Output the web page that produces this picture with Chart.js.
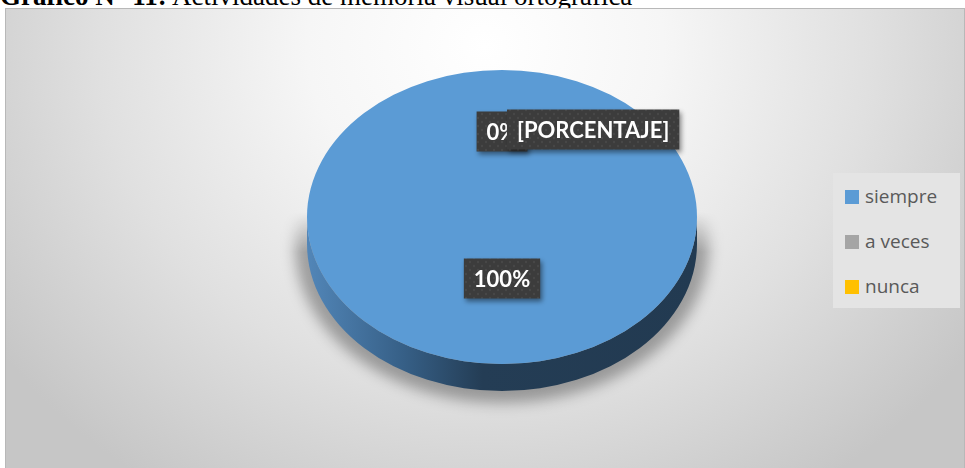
<!DOCTYPE html>
<html>
<head>
<meta charset="utf-8">
<script src="https://cdn.jsdelivr.net/npm/chart.js@4.4.1/dist/chart.umd.min.js"></script>
<style>
  html, body { margin: 0; padding: 0; background: #ffffff; }
  body { width: 965px; height: 468px; position: relative; overflow: hidden; }
  #title {
    position: absolute; left: 0; top: -19px; white-space: nowrap;
    font-family: "Liberation Serif", "Times New Roman", serif; font-size: 27px; color: #000;
  }
  #frame {
    position: absolute; left: 5px; top: 8px; width: 960px; height: 462px;
    box-sizing: border-box; border: 1px solid #b8b8b8;
    background: radial-gradient(ellipse 62% 115% at 50% 8%, #ffffff 0%, #f6f6f6 30%, #e0e0e0 65%, #c6c6c6 100%);
  }
  #chart { position: absolute; left: 0; top: 0; }
  #legend {
    position: absolute; left: 833px; top: 173px; width: 127px; height: 135px;
    background: #e4e4e4; font-family: "Open Sans", sans-serif; font-size: 19px; color: #595959;
  }
  .item { position: absolute; left: 12px; height: 24px; line-height: 24px; }
  .item span.box { display: inline-block; width: 14px; height: 14px; margin-right: 6px; vertical-align: -1px; }
</style>
</head>
<body>
<div id="title"><b>Gráfico N° 11:</b> Actividades de memoria visual ortográfica</div>
<div id="frame"></div>
<canvas id="chart" width="965" height="468"></canvas>
<div id="legend"></div>

<script>
// Chart data
const categories = ['siempre', 'a veces', 'nunca'];
const values = [100, 0, 0];
const labelTexts = ['100%', '0%', '[PORCENTAJE]'];
const colors = ['#5B9BD5', '#A5A5A5', '#FFC000'];

// Tilt / depth for the 3D look
const TILT = 147 / 195;
const DEPTH = 27;

// Build HTML legend
const legendEl = document.getElementById('legend');
categories.forEach((name, i) => {
    const row = document.createElement('div');
    row.className = 'item';
    row.style.top = (11 + i * 45) + 'px';
    row.innerHTML = `<span class="box" style="background:${colors[i]}"></span>${name}`;
    legendEl.appendChild(row);
});

// Dotted dark pattern used behind the data labels
function makeDotPattern(ctx) {
    const p = document.createElement('canvas');
    p.width = 8; p.height = 8;
    const pc = p.getContext('2d');
    pc.fillStyle = '#3c3c3c';
    pc.fillRect(0, 0, 8, 8);
    pc.fillStyle = '#484848';
    pc.beginPath(); pc.arc(2, 2, 1.2, 0, Math.PI * 2); pc.fill();
    pc.beginPath(); pc.arc(6, 6, 1.2, 0, Math.PI * 2); pc.fill();
    return ctx.createPattern(p, 'repeat');
}

// Plugin: squash the pie into an ellipse and draw the side wall + shadow
const pie3d = {
    id: 'pie3d',
    beforeDatasetsDraw(chart) {
        const ctx = chart.ctx;
        const meta = chart.getDatasetMeta(0);
        const a0 = meta.data[0];
        const cx = a0.x, cy = a0.y, r = a0.outerRadius;
        const ry = r * TILT;

        // soft shadow under the pie, faded out towards the top
        const off = document.createElement('canvas');
        off.width = chart.width; off.height = chart.height;
        const oc = off.getContext('2d');
        oc.filter = 'blur(7px)';
        oc.fillStyle = 'rgba(0, 0, 0, 0.32)';
        oc.beginPath();
        oc.ellipse(cx, cy + DEPTH + 2, r + 12, ry + 10, 0, 0, Math.PI * 2);
        oc.fill();
        oc.filter = 'none';
        oc.globalCompositeOperation = 'destination-in';
        const mask = oc.createLinearGradient(0, cy - 5, 0, cy + 35);
        mask.addColorStop(0, 'rgba(0,0,0,0)');
        mask.addColorStop(1, 'rgba(0,0,0,1)');
        oc.fillStyle = mask;
        oc.fillRect(0, 0, off.width, off.height);
        ctx.drawImage(off, 0, 0);

        // side wall for each arc (only the front half is visible)
        meta.data.forEach((arc, i) => {
            if (arc.circumference <= 0) return;
            let s = Math.max(arc.startAngle, 0);
            let e = Math.min(arc.endAngle, Math.PI);
            if (e <= s) return;
            const g = ctx.createLinearGradient(cx - r, 0, cx + r, 0);
            g.addColorStop(0, '#5286b8');
            g.addColorStop(0.25, '#365f86');
            g.addColorStop(0.45, '#243d55');
            g.addColorStop(1, '#223a51');
            ctx.save();
            ctx.fillStyle = g;
            ctx.beginPath();
            ctx.ellipse(cx, cy + DEPTH, r, ry, 0, s, e);
            ctx.ellipse(cx, cy, r, ry, 0, e, s, true);
            ctx.closePath();
            ctx.fill();
            ctx.restore();
        });

        // squash the top face
        ctx.save();
        ctx.translate(cx, cy);
        ctx.scale(1, TILT);
        ctx.translate(-cx, -cy);
    },
    afterDatasetsDraw(chart) {
        chart.ctx.restore();
    }
};

// Plugin: dark boxed data labels
const boxLabels = {
    id: 'boxLabels',
    afterDraw(chart) {
        const ctx = chart.ctx;
        const meta = chart.getDatasetMeta(0);
        const pattern = makeDotPattern(ctx);
        ctx.save();
        ctx.font = 'bold 22px Lato, sans-serif';
        ctx.textAlign = 'center';
        ctx.textBaseline = 'middle';
        let prev = null;
        meta.data.forEach((arc, i) => {
            const pos = arc.tooltipPosition();
            const cy = arc.y;
            let x = pos.x;
            let y = cy + (pos.y - cy) * TILT - 12;
            const w = ctx.measureText(labelTexts[i]).width + 20;
            const h = 40;
            let left = x - w / 2;
            // avoid covering the previous label completely
            if (prev && Math.abs(prev.y - y) < h) {
                left = prev.x + 5;
                x = left + w / 2;
                y -= 2;
            }
            ctx.save();
            ctx.shadowColor = 'rgba(0, 0, 0, 0.45)';
            ctx.shadowBlur = 5;
            ctx.shadowOffsetX = 2;
            ctx.shadowOffsetY = 3;
            ctx.fillStyle = pattern;
            ctx.fillRect(left, y - h / 2, w, h);
            ctx.restore();
            ctx.fillStyle = '#ffffff';
            ctx.fillText(labelTexts[i], x, y + 1);
            prev = { x: x, y: y };
        });
        ctx.restore();
    }
};

const ctx = document.getElementById('chart').getContext('2d');
window.pieChart = new Chart(ctx, {
    type: 'pie',
    data: {
        labels: categories,
        datasets: [{
            data: values,
            backgroundColor: colors,
            borderWidth: 0
        }]
    },
    options: {
        responsive: false,
        animation: false,
        events: [],
        layout: {
            padding: { left: 307, right: 268, top: 22, bottom: 56 }
        },
        plugins: {
            legend: { display: false },
            tooltip: { enabled: false }
        }
    },
    plugins: [pie3d, boxLabels]
});
</script>
</body>
</html>
